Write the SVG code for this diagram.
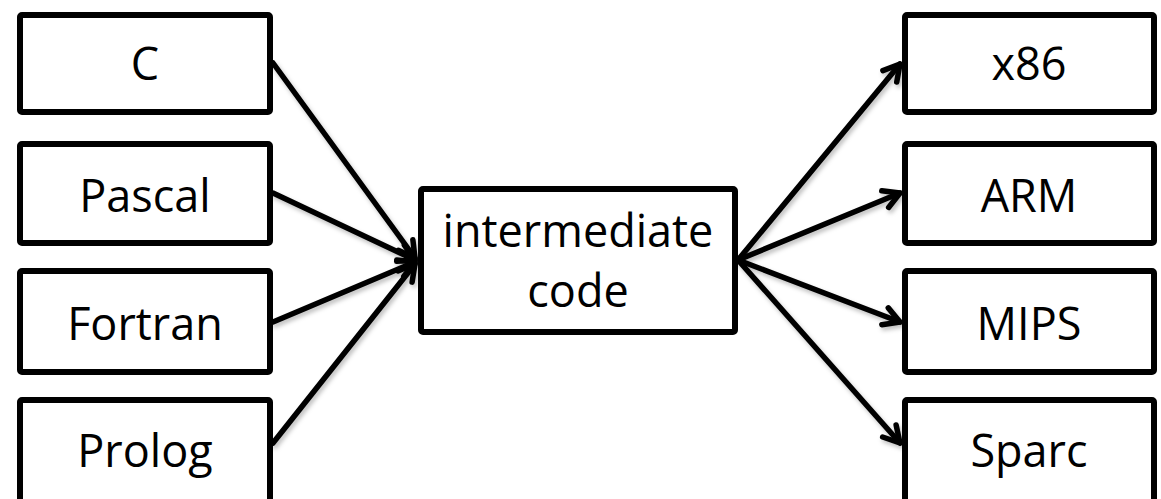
<svg xmlns="http://www.w3.org/2000/svg" width="1161" height="499" viewBox="0 0 1161 499">
  <defs>
    <style>
      .box { fill: #ffffff; stroke: #000000; stroke-width: 6; }
      .label { font-family: "Open Sans", "Liberation Sans", sans-serif; font-size: 45px; fill: #000000; text-anchor: middle; }
      .edge { fill: none; stroke: #000000; stroke-width: 5.5; stroke-linecap: round; marker-end: url(#arrow); }
    </style>
    <marker id="arrow" markerUnits="userSpaceOnUse" viewBox="-22 -14 28 28" refX="0" refY="0" markerWidth="28" markerHeight="28" orient="auto">
      <path d="M -16 -9 L 0 0 L -16 9" fill="none" stroke="#000000" stroke-width="5.5" stroke-linecap="round" stroke-linejoin="round"/>
    </marker>
    <filter id="shadow" x="-10%" y="-10%" width="120%" height="120%">
      <feDropShadow dx="2" dy="3" stdDeviation="2" flood-color="#000000" flood-opacity="0.25"/>
    </filter>
  </defs>

  <!-- connectors -->
  <g id="connectors" filter="url(#shadow)">
    <line class="edge" x1="273" y1="63" x2="415" y2="258"/>
    <line class="edge" x1="273" y1="193" x2="415" y2="260"/>
    <line class="edge" x1="273" y1="322" x2="415" y2="262"/>
    <line class="edge" x1="273" y1="443" x2="415" y2="264"/>
    <line class="edge" x1="738" y1="260" x2="900" y2="64"/>
    <line class="edge" x1="738" y1="260" x2="900" y2="193"/>
    <line class="edge" x1="738" y1="260" x2="900" y2="322"/>
    <line class="edge" x1="738" y1="260" x2="900" y2="443"/>
  </g>

  <!-- source languages -->
  <g id="node-c">
    <rect class="box" x="20" y="15" width="250" height="97" rx="2"/>
    <text class="label" x="145" y="80">C</text>
  </g>
  <g id="node-pascal">
    <rect class="box" x="20" y="144" width="250" height="99" rx="2"/>
    <text class="label" x="145" y="212">Pascal</text>
  </g>
  <g id="node-fortran">
    <rect class="box" x="20" y="271" width="250" height="101" rx="2"/>
    <text class="label" x="145" y="340">Fortran</text>
  </g>
  <g id="node-prolog">
    <rect class="box" x="20" y="400" width="250" height="110" rx="2"/>
    <text class="label" x="145" y="467">Prolog</text>
  </g>

  <!-- intermediate representation -->
  <g id="node-intermediate">
    <rect class="box" x="421" y="189" width="314" height="143" rx="2"/>
    <text class="label" x="578" y="247">intermediate</text>
    <text class="label" x="578" y="307">code</text>
  </g>

  <!-- target architectures -->
  <g id="node-x86">
    <rect class="box" x="905" y="15" width="249" height="97" rx="2"/>
    <text class="label" x="1029" y="80">x86</text>
  </g>
  <g id="node-arm">
    <rect class="box" x="905" y="144" width="249" height="99" rx="2"/>
    <text class="label" x="1029" y="212">ARM</text>
  </g>
  <g id="node-mips">
    <rect class="box" x="905" y="271" width="249" height="101" rx="2"/>
    <text class="label" x="1029" y="340">MIPS</text>
  </g>
  <g id="node-sparc">
    <rect class="box" x="905" y="400" width="249" height="110" rx="2"/>
    <text class="label" x="1029" y="467">Sparc</text>
  </g>
</svg>
